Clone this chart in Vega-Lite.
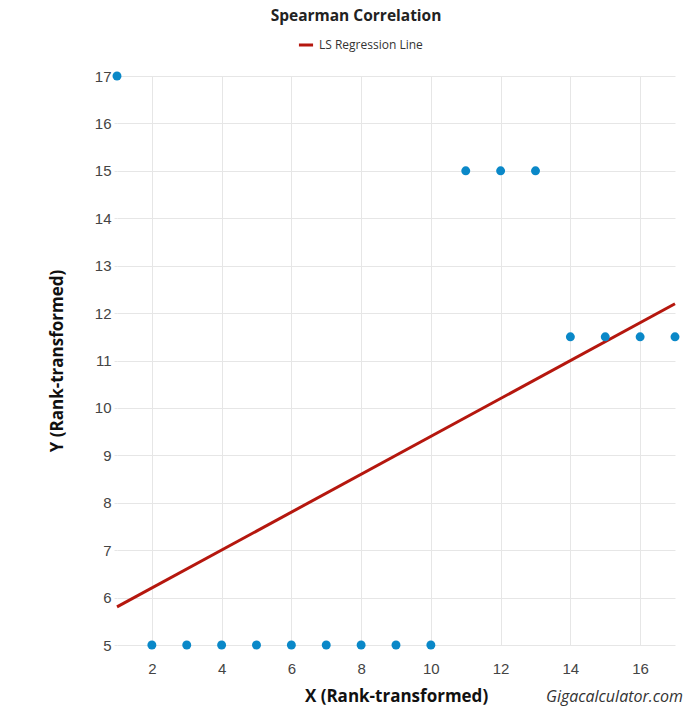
{
  "$schema": "https://vega.github.io/schema/vega-lite/v6.json",
  "autosize": {"type": "none"},
  "width": 558,
  "height": 569,
  "padding": {"left": 117, "top": 76, "right": 24, "bottom": 66},
  "background": "white",
  "title": {
    "text": "Spearman Correlation",
    "font": "Open Sans",
    "fontSize": 15.5,
    "fontWeight": "bold",
    "color": "#222",
    "anchor": "middle",
    "frame": "group",
    "dx": -40,
    "offset": 12
  },
  "datasets": {
    "points": [
      {"x": 1, "y": 17},
      {"x": 2, "y": 5}, {"x": 3, "y": 5}, {"x": 4, "y": 5}, {"x": 5, "y": 5},
      {"x": 6, "y": 5}, {"x": 7, "y": 5}, {"x": 8, "y": 5}, {"x": 9, "y": 5},
      {"x": 10, "y": 5},
      {"x": 11, "y": 15}, {"x": 12, "y": 15}, {"x": 13, "y": 15},
      {"x": 14, "y": 11.5}, {"x": 15, "y": 11.5}, {"x": 16, "y": 11.5}, {"x": 17, "y": 11.5}
    ],
    "line": [
      {"x": 1, "y": 5.804, "series": "LS Regression Line"},
      {"x": 17, "y": 12.196, "series": "LS Regression Line"}
    ],
    "credit": [
      {"x": 17, "y": 5, "label": "Gigacalculator.com"}
    ]
  },
  "layer": [
    {
      "data": {"name": "line"},
      "mark": {"type": "line", "strokeWidth": 3, "clip": false},
      "encoding": {
        "x": {
          "field": "x", "type": "quantitative",
          "scale": {"domain": [1, 17], "nice": false, "zero": false},
          "axis": {
            "title": "X (Rank-transformed)",
            "values": [2, 4, 6, 8, 10, 12, 14, 16],
            "grid": true,
            "gridColor": "#e6e6e6",
            "domain": false,
            "ticks": false,
            "labelPadding": 16,
            "labelFont": "Liberation Sans",
            "labelFontSize": 15,
            "labelColor": "#444",
            "titleFont": "Open Sans",
            "titleFontSize": 17,
            "titleFontWeight": "bold",
            "titleColor": "#111",
            "titlePadding": 12
          }
        },
        "y": {
          "field": "y", "type": "quantitative",
          "scale": {"domain": [5, 17], "nice": false, "zero": false},
          "axis": {
            "title": "Y (Rank-transformed)",
            "values": [5, 6, 7, 8, 9, 10, 11, 12, 13, 14, 15, 16, 17],
            "grid": true,
            "gridColor": "#e6e6e6",
            "domain": false,
            "ticks": true,
            "tickColor": "#e6e6e6",
            "tickSize": 3,
            "labelPadding": 3,
            "labelFont": "Liberation Sans",
            "labelFontSize": 15,
            "labelColor": "#444",
            "titleFont": "Open Sans",
            "titleFontSize": 17,
            "titleFontWeight": "bold",
            "titleColor": "#111",
            "titlePadding": 28
          }
        },
        "color": {
          "field": "series", "type": "nominal",
          "scale": {"domain": ["LS Regression Line"], "range": ["#b5170e"]},
          "legend": {
            "title": null,
            "orient": "none",
            "legendX": 180,
            "legendY": -40,
            "symbolType": "stroke",
            "symbolStrokeWidth": 3,
            "symbolSize": 200,
            "labelFont": "Open Sans",
            "labelFontSize": 12,
            "labelColor": "#333",
            "labelOffset": 4
          }
        }
      }
    },
    {
      "data": {"name": "points"},
      "mark": {"type": "circle", "size": 80, "opacity": 1, "color": "#0a88c8", "clip": false},
      "encoding": {
        "x": {"field": "x", "type": "quantitative"},
        "y": {"field": "y", "type": "quantitative"}
      }
    },
    {
      "data": {"name": "credit"},
      "mark": {
        "type": "text",
        "font": "Open Sans",
        "fontSize": 16,
        "fontStyle": "italic",
        "color": "#333",
        "align": "right",
        "baseline": "middle",
        "dx": 8,
        "dy": 52
      },
      "encoding": {
        "x": {"field": "x", "type": "quantitative"},
        "y": {"field": "y", "type": "quantitative"},
        "text": {"field": "label"}
      }
    }
  ],
  "config": {"view": {"stroke": null}}
}
